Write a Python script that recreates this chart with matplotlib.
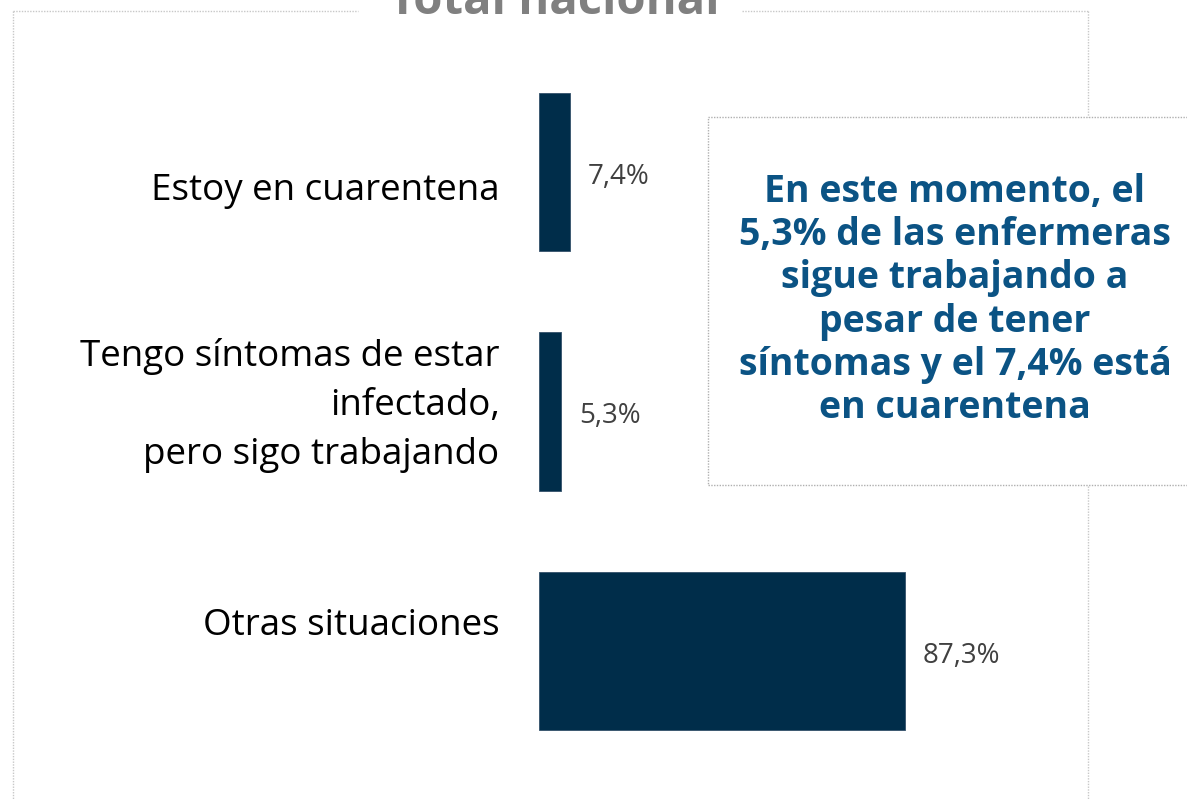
import matplotlib
matplotlib.use("Agg")
import matplotlib.pyplot as plt
from matplotlib.lines import Line2D
from matplotlib.patches import Rectangle

# datos
categorias = ["Estoy en cuarentena",
              "Tengo síntomas de estar\ninfectado,\npero sigo trabajando",
              "Otras situaciones"]
valores = [7.4, 5.3, 87.3]
etiquetas = ["7,4%", "5,3%", "87,3%"]
titulo = "Total nacional"
nota = ("En este momento, el\n5,3% de las enfermeras\nsigue trabajando a\n"
        "pesar de tener\nsíntomas y el 7,4% está\nen cuarentena")

W, H = 1187, 799
fig = plt.figure(figsize=(W / 100, H / 100), dpi=100)

def fx(px):
    return px / W

def fy(py):
    return 1 - py / H

# marco punteado exterior
gris = "#c8c8c8"
fig.add_artist(Line2D([fx(13), fx(13)], [fy(11), fy(800)], color=gris, lw=1, ls=(0, (1, 1))))
fig.add_artist(Line2D([fx(1088), fx(1088)], [fy(11), fy(800)], color=gris, lw=1, ls=(0, (1, 1))))
fig.add_artist(Line2D([fx(13), fx(358)], [fy(11), fy(11)], color=gris, lw=1, ls=(0, (1, 1))))
fig.add_artist(Line2D([fx(742), fx(1088)], [fy(11), fy(11)], color=gris, lw=1, ls=(0, (1, 1))))
fig.text(fx(554), fy(14), titulo, ha="center", va="baseline", fontsize=34,
         fontweight="bold", color="#808080", family="Open Sans")

# barras
ax = fig.add_axes([fx(539), fy(771), fx(419), (771 - 52) / H])
y = list(range(len(categorias)))
ax.barh(y, valores, height=0.66, color="#002d4a", edgecolor="#33506a", linewidth=0.6)
ax.set_xlim(0, 100)
ax.set_ylim(2.5, -0.5)
ax.axis("off")

desplaz = [0.08, -0.025, -0.105]
for i in y:
    ax.text(valores[i] + 4.2, i + 0.02, etiquetas[i], ha="left", va="center",
            fontsize=20, color="#404040", family="Open Sans")
    ax.text(-9.4, i + desplaz[i], categorias[i], ha="right", va="center",
            fontsize=26.5, color="black", family="Open Sans", linespacing=1.47)

# recuadro con nota
fig.add_artist(Rectangle((fx(708), fy(485)), fx(500), (485 - 117) / H,
                         facecolor="white", edgecolor="#b0b0b0", lw=1,
                         ls=(0, (1, 1)), zorder=5))
fig.text(fx(955), fy(300), nota, ha="center", va="center", fontsize=27,
         fontweight="bold", color="#0b5384", family="Open Sans",
         linespacing=1.18, zorder=6)

fig.savefig("out.png", dpi=100, facecolor="white")
